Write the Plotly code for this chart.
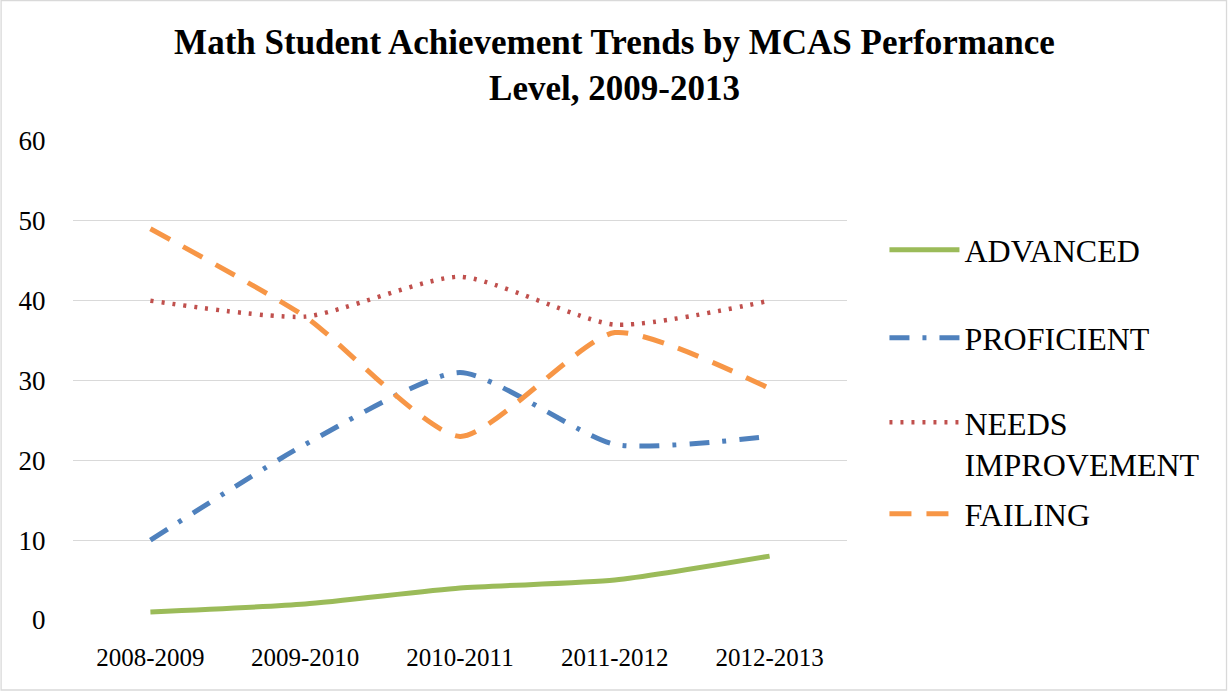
import plotly.graph_objects as go

years = ["2008-2009", "2009-2010", "2010-2011", "2011-2012", "2012-2013"]
advanced = [1, 2, 4, 5, 8]
proficient = [10, 22, 31, 22, 23]
needs_improvement = [40, 38, 43, 37, 40]
failing = [49, 38, 23, 36, 29]

series_names = ["ADVANCED", "PROFICIENT", "NEEDS<br>IMPROVEMENT", "FAILING"]
series_values = [advanced, proficient, needs_improvement, failing]
colors = ["#9BBB59", "#4F81BD", "#C0504D", "#F79646"]
dashes = ["solid", "20px,13px,4px,13px", "3px,8px", "22px,15px"]
widths = [5, 5, 4.5, 5]
legend_ids = ["legend", "legend2", "legend3", "legend4"]

W, H = 1229, 691
L, R, T, B = 72.5, 847.5, 141, 620
FONT = "'Liberation Serif', 'Times New Roman', 'DejaVu Serif', serif"

fig = go.Figure()
for name, vals, c, d, w, lg in zip(series_names, series_values, colors, dashes, widths, legend_ids):
    fig.add_trace(go.Scatter(
        x=years, y=vals, name=name, mode="lines",
        line=dict(color=c, dash=d, width=w, shape="spline", smoothing=0.6),
        legend=lg, hoverinfo="x+y+name",
    ))

def py(pix):
    return (B - pix) / (B - T)

def px(pix):
    return (pix - L) / (R - L)

legend_centers = [250, 338, 443.5, 514]
leg_common = dict(font=dict(family=FONT, size=32, color="#000000"),
                  bgcolor="rgba(0,0,0,0)", borderwidth=0, yanchor="middle",
                  xanchor="left", valign="top", itemwidth=70)
layout_legends = {}
for lg, cy in zip(legend_ids, legend_centers):
    layout_legends[lg] = dict(x=px(885), y=py(cy), **leg_common)

fig.update_layout(
    width=W, height=H,
    margin=dict(l=L, r=W - R, t=T, b=H - B, pad=0),
    paper_bgcolor="white", plot_bgcolor="white",
    showlegend=True,
    title=dict(
        text="<b>Math Student Achievement Trends by MCAS Performance<br>Level, 2009-2013</b>",
        x=0.5, xref="container", xanchor="center",
        y=1 - 54 / H, yref="container", yanchor="top",
        font=dict(family=FONT, size=35, color="#000000"),
    ),
    xaxis=dict(
        type="category", range=[-0.5, 4.5], showgrid=False, zeroline=False,
        showline=False, ticks="outside", ticklen=15, tickcolor="rgba(0,0,0,0)",
        tickfont=dict(family=FONT, size=25, color="#000000"),
    ),
    yaxis=dict(
        range=[0, 60], dtick=10, showgrid=True, gridcolor="#D9D9D9", gridwidth=1.3,
        zeroline=False, showline=False, ticks="outside", ticklen=21,
        tickcolor="rgba(0,0,0,0)",
        tickfont=dict(family=FONT, size=27, color="#000000"),
    ),
    **layout_legends,
)

fig.add_shape(type="rect", xref="paper", yref="paper",
              x0=px(0.5), x1=px(1227.5), y0=py(690), y1=py(0.5),
              line=dict(color="#D9D9D9", width=1.3), fillcolor="rgba(0,0,0,0)",
              layer="below")

fig.write_html("out.html", config={"displayModeBar": False},
               post_script="document.body.style.margin='0';document.body.style.overflow='hidden';")
